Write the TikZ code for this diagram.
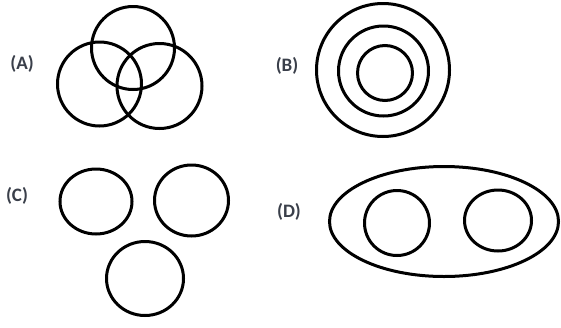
\documentclass[tikz,border=0pt]{standalone}
\usepackage{fontspec}
\setmainfont{Carlito}
\definecolor{lbl}{HTML}{3A3F4A}
\begin{document}
\begin{tikzpicture}[x=1pt,y=-1pt,
  ring/.style={draw=black,line width=3pt},
  lab/.style={text=lbl,font=\fontsize{19}{22}\selectfont\bfseries,inner sep=0pt}]
\useasboundingbox (0,0) rectangle (561,327);
% (A)
\node[lab] (la) at (22,64) {(A)};
\draw[ring] (133,48) circle[radius=41.5];
\draw[ring] (99.5,84) circle[radius=42];
\draw[ring] (159.5,86) circle[radius=42.5];
% (B)
\node[lab] (lb) at (287,66) {(B)};
\draw[ring] (383,70) circle[radius=66.5];
\draw[ring] (383.5,71) circle[radius=45];
\draw[ring] (385,73) circle[radius=27.5];
% (C)
\node[lab] (lc) at (17,196) {(C)};
\draw[ring] (96,201.5) ellipse[x radius=36,y radius=32.5];
\draw[ring] (191.5,200.5) ellipse[x radius=37,y radius=35.5];
\draw[ring] (145,278.5) ellipse[x radius=38.5,y radius=37];
% (D)
\node[lab] (ld) at (289,212) {(D)};
\draw[ring] (444,221.5) ellipse[x radius=114.5,y radius=55];
\draw[ring] (397,223) ellipse[x radius=32.5,y radius=32.5];
\draw[ring] (498,220.5) ellipse[x radius=33.5,y radius=30.5];
\end{tikzpicture}
\end{document}
